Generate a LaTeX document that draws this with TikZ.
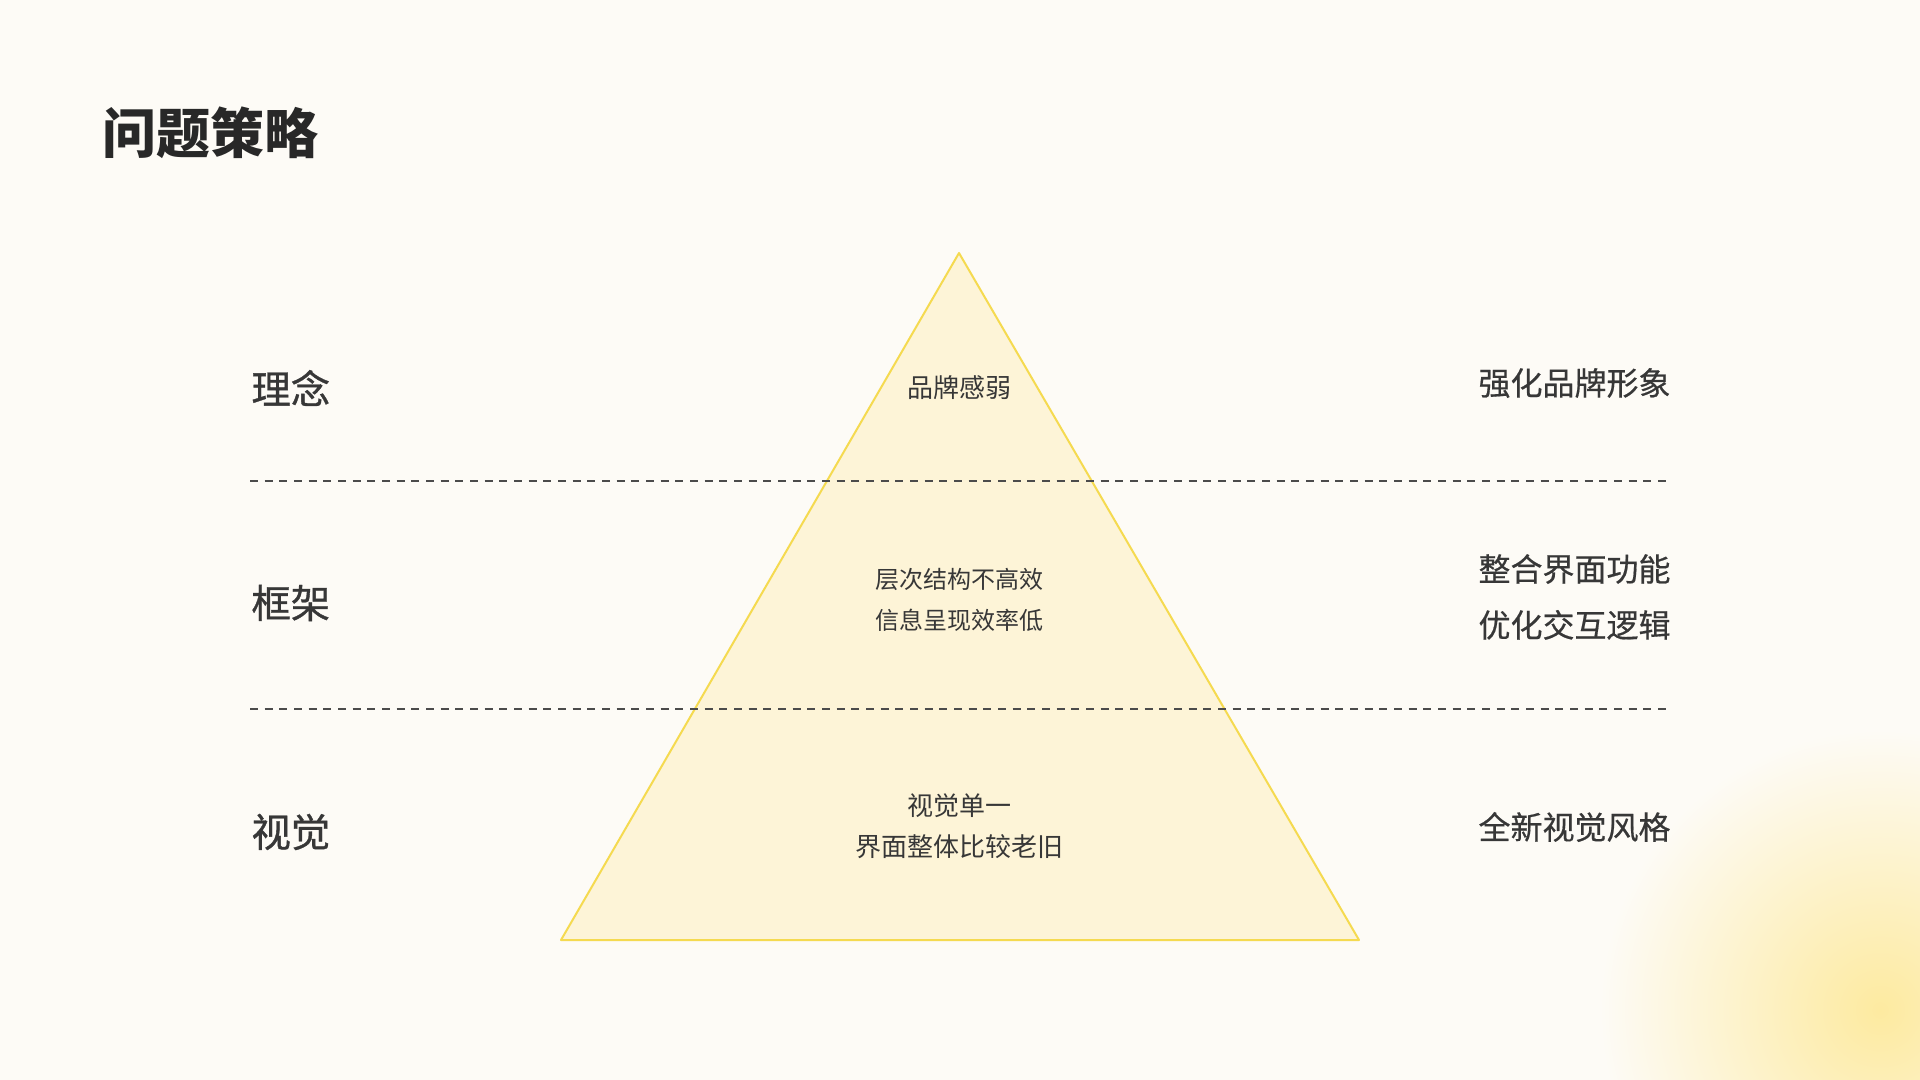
\documentclass[tikz,border=0pt]{standalone}
\usepackage{fontspec}
\newfontfamily\cjk{Noto Sans CJK SC}
\newfontfamily\cjkmed[FakeBold=0.9]{Noto Sans CJK SC}
\newfontfamily\cjksemi[FakeBold=0.5]{Noto Sans CJK SC}
\usetikzlibrary{positioning}

\definecolor{bgcolor}{RGB}{253,251,246}
\definecolor{glowcolor}{RGB}{253,234,160}
\definecolor{tricolor}{RGB}{253,244,215}
\definecolor{triline}{RGB}{245,218,80}
\definecolor{inkdark}{RGB}{40,40,40}
\definecolor{ink}{RGB}{55,55,55}

\tikzset{every picture/.style={line width=0.75pt}}
\tikzset{
  titletext/.style={anchor=west,inner sep=0pt,text=inkdark,font=\cjk\bfseries\fontsize{40.5}{48}\selectfont},
  layertext/.style={anchor=west,inner sep=0pt,text=ink,font=\cjkmed\fontsize{29.5}{34}\selectfont},
  issuetext/.style={inner sep=0pt,text=ink,align=center,font=\cjk\fontsize{19.5}{31}\selectfont},
  plantext/.style={anchor=west,inner sep=0pt,text=ink,align=left,font=\cjksemi\fontsize{24}{42}\selectfont},
  divider/.style={draw=ink!90,line width=1.2pt,dash pattern=on 6pt off 5pt}
}

\begin{document}
\begin{tikzpicture}[x=0.75pt,y=0.75pt,yscale=-1,xscale=1]
	\useasboundingbox (0,0) rectangle (1920,1080);

	%Background
	\fill[bgcolor] (0,0) rectangle (1920,1080);
	\begin{scope}
		\clip (0,0) rectangle (1920,1080);
		\shade[inner color=glowcolor,outer color=bgcolor] (1880,1010) circle (280);
	\end{scope}

	%Shape: Triangle [id:pyramid]
	\draw[draw=triline,fill=tricolor,line width=1.5pt,line join=round] (959,253) -- (1359,940) -- (561,940) -- cycle ;

	%Dashed dividers
	\coordinate (d1a) at (250,481);
	\coordinate (d1b) at (1670,481);
	\coordinate (d2a) at (250,709);
	\coordinate (d2b) at (1670,709);
	\draw[divider] (d1a) -- (d1b);
	\draw[divider] (d2a) -- (d2b);

	% Text Node
	\node[titletext] (title) at (102,133) {问题策略};

	% Text Node
	\node[layertext] (idea) at (251,388) {理念};
	% Text Node
	\node[layertext] (frame) at (251,603) {框架};
	% Text Node
	\node[layertext] (visual) at (251,832) {视觉};

	% Text Node
	\node[issuetext] (brandweak) at (959,388) {品牌感弱};
	% Text Node
	\node[issuetext,font=\cjk\fontsize{18}{31}\selectfont] (structweak) at (959,600) {层次结构不高效\\信息呈现效率低};
	% Text Node
	\node[issuetext] (visualold) at (959,826) {视觉单一\\界面整体比较老旧};

	% Text Node
	\node[plantext] (brandplan) at (1478,383) {强化品牌形象};
	% Text Node
	\node[plantext] (frameplan) at (1478,597) {整合界面功能\\优化交互逻辑};
	% Text Node
	\node[plantext] (visualplan) at (1478,827) {全新视觉风格};

\end{tikzpicture}
\end{document}
